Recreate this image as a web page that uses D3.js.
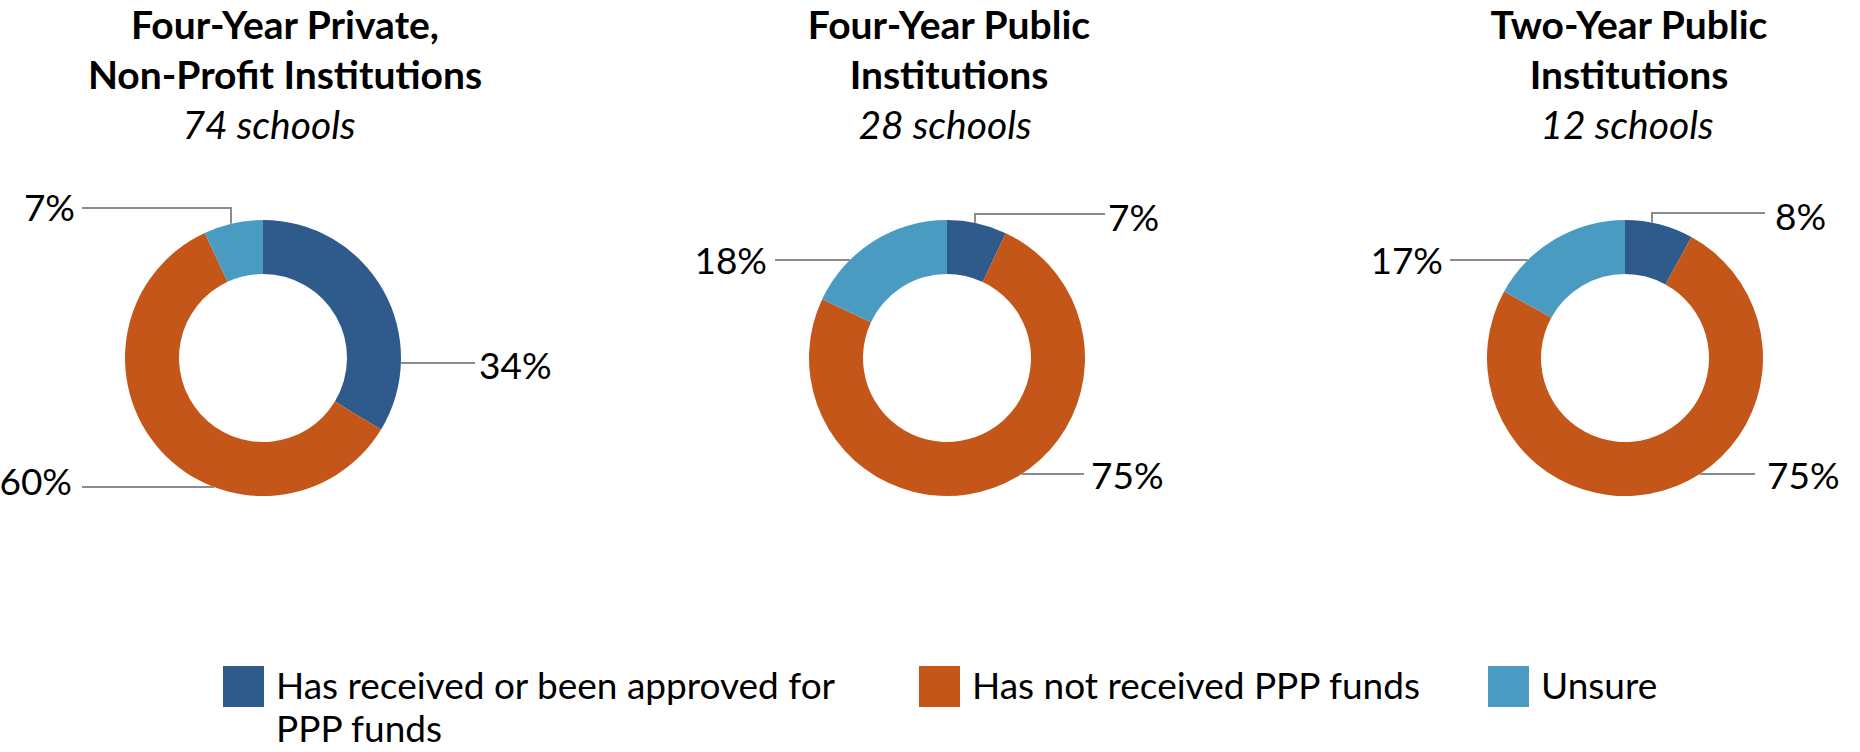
<!DOCTYPE html>
<html>
<head>
<meta charset="utf-8">
<script src="https://cdn.jsdelivr.net/npm/d3@7"></script>
<style>
  html, body { margin: 0; padding: 0; background: #ffffff; }
  svg { display: block; }
  text { font-family: Lato, "Open Sans", sans-serif; fill: #000; }
</style>
</head>
<body>
<svg id="chart" width="1860" height="752"></svg>
<script>
// ---------- DATA ----------
const titleLine1 = ["Four-Year Private,", "Four-Year Public", "Two-Year Public"];
const titleLine2 = ["Non-Profit Institutions", "Institutions", "Institutions"];
const schoolCounts = [74, 28, 12];
const categories = ["Has received or been approved for PPP funds", "Has not received PPP funds", "Unsure"];
const receivedPct = [34, 7, 8];
const notReceivedPct = [60, 75, 75];
const unsurePct = [7, 18, 17];
const colors = ["#2E5A8C", "#C4561A", "#4A9BC1"];

// ---------- LAYOUT ----------
const centersX = [263, 947, 1625];
const centerY = 358;
const outerR = 138, innerR = 84;
const titleDx = [22, 2, 4];
const subDx = [6, -2, 2];

// leader layout per chart, per category (relative to donut center)
const leaders = [
  [ {type: "h", side: 1, y: 5, end: 212, tx: 216, ty: 1},
    {type: "h", side: -1, y: 129, end: -181, tx: -191, ty: -7},
    {type: "e", x: -32, y: -150, end: -181, tx: -188, ty: -2} ],
  [ {type: "e", x: 28, y: -144, end: 158, tx: 161, ty: 2},
    {type: "h", side: 1, y: 116, end: 137, tx: 144, ty: 0},
    {type: "h", side: -1, y: -98, end: -172, tx: -180, ty: -1} ],
  [ {type: "e", x: 27, y: -145, end: 140, tx: 150, ty: 2},
    {type: "h", side: 1, y: 116, end: 130, tx: 142, ty: 0},
    {type: "h", side: -1, y: -98, end: -175, tx: -182, ty: -1} ]
];
const legendX = [223, 919, 1488];
const legendLines = [["Has received or been approved for", "PPP funds"], ["Has not received PPP funds"], ["Unsure"]];

const svg = d3.select("#chart");

const pie = d3.pie().sort(null).value(d => d.value);
const arc = d3.arc().innerRadius(innerR).outerRadius(outerR);
const color = d3.scaleOrdinal().domain(categories).range(colors);

centersX.forEach((cx, i) => {
  const data = [
    {cat: categories[0], value: receivedPct[i]},
    {cat: categories[1], value: notReceivedPct[i]},
    {cat: categories[2], value: unsurePct[i]}
  ];
  const g = svg.append("g").attr("transform", `translate(${cx},${centerY})`);

  g.selectAll("path.slice")
    .data(pie(data))
    .join("path")
    .attr("class", "slice")
    .attr("d", arc)
    .attr("fill", d => color(d.data.cat));

  // leader lines and labels
  data.forEach((d, k) => {
    const L = leaders[i][k];
    let pts;
    if (L.type === "h") {
      const ax = L.side * Math.sqrt(outerR * outerR - L.y * L.y);
      pts = [[ax, L.y], [L.end, L.y]];
    } else {
      const ay = (L.y < 0 ? -1 : 1) * Math.sqrt(outerR * outerR - L.x * L.x);
      pts = [[L.x, ay], [L.x, L.y], [L.end, L.y]];
    }
    g.append("path")
      .attr("d", d3.line()(pts))
      .attr("fill", "none")
      .attr("stroke", "#8C8C8C")
      .attr("stroke-width", 2);
    g.append("text")
      .attr("x", L.tx)
      .attr("y", L.y + L.ty)
      .attr("dominant-baseline", "central")
      .attr("text-anchor", L.tx < 0 ? "end" : "start")
      .attr("font-size", 37)
      .text(d.value + "%");
  });

  // titles
  const tx = cx + titleDx[i];
  svg.append("text").attr("x", tx).attr("y", 39).attr("text-anchor", "middle")
    .attr("font-weight", 700).attr("font-size", 39).text(titleLine1[i]);
  svg.append("text").attr("x", tx).attr("y", 89).attr("text-anchor", "middle")
    .attr("font-weight", 700).attr("font-size", 39).text(titleLine2[i]);
  svg.append("text").attr("x", cx + subDx[i]).attr("y", 139).attr("text-anchor", "middle")
    .attr("font-style", "italic").attr("font-size", 39).text(schoolCounts[i] + " schools");
});

// legend
const lg = svg.append("g");
categories.forEach((c, k) => {
  lg.append("rect")
    .attr("x", legendX[k]).attr("y", 666)
    .attr("width", 41).attr("height", 41)
    .attr("fill", color(c));
  legendLines[k].forEach((line, j) => {
    lg.append("text")
      .attr("x", legendX[k] + 53)
      .attr("y", 699 + j * 43)
      .attr("font-size", 37)
      .text(line);
  });
});
</script>
</body>
</html>
